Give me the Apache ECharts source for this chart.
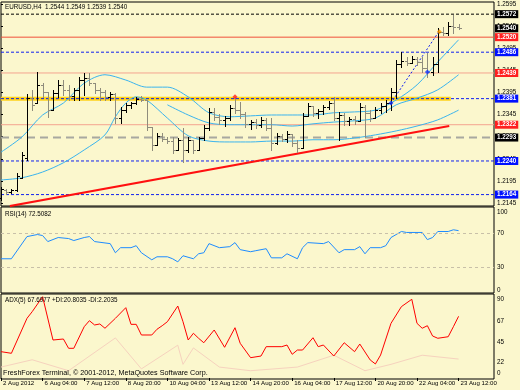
<!DOCTYPE html>
<html><head><meta charset="utf-8">
<script src="https://cdn.jsdelivr.net/npm/echarts@6/dist/echarts.min.js"></script>
<style>html,body{margin:0;padding:0;background:#FBF7CD;}#c{width:520px;height:390px;}</style>
</head><body><div id="c"></div>
<script>
// ---- data ----
const symbolName = 'EURUSD,H4';
const timeLabelIdx = [0,8,16,24,32,40,48,56,64,72,80,88];
const timeLabels = ['2 Aug 2012','6 Aug 04:00','7 Aug 12:00','8 Aug 20:00','10 Aug 04:00','13 Aug 12:00','14 Aug 20:00','16 Aug 04:00','17 Aug 12:00','20 Aug 20:00','22 Aug 04:00','23 Aug 12:00'];
const opens  = [1.2156,1.2175,1.2170,1.2175,1.2202,1.2247,1.2382,1.2371,1.2412,1.2396,1.2355,1.2394,1.2412,1.2401,1.2387,1.2401,1.2423,1.2428,1.2416,1.2401,1.2396,1.2385,1.2391,1.2337,1.2355,1.2367,1.2371,1.2380,1.2378,1.2317,1.2276,1.2297,1.2290,1.2285,1.2265,1.2288,1.2265,1.2288,1.2265,1.2292,1.2315,1.2351,1.2340,1.2333,1.2337,1.2360,1.2355,1.2346,1.2324,1.2328,1.2322,1.2333,1.2315,1.2281,1.2297,1.2290,1.2301,1.2281,1.2269,1.2342,1.2364,1.2349,1.2353,1.2362,1.2371,1.2337,1.2344,1.2331,1.2335,1.2331,1.2362,1.2349,1.2337,1.2355,1.2364,1.2371,1.2396,1.2459,1.2466,1.2462,1.2471,1.2464,1.2450,1.2441,1.2459,1.2532,1.2529,1.2545,1.2544];
const highs  = [1.2181,1.2177,1.2177,1.2213,1.2260,1.2391,1.2401,1.2441,1.2416,1.2396,1.2401,1.2423,1.2423,1.2412,1.2405,1.2430,1.2439,1.2439,1.2416,1.2405,1.2401,1.2396,1.2394,1.2362,1.2371,1.2373,1.2385,1.2387,1.2378,1.2317,1.2303,1.2303,1.2294,1.2294,1.2292,1.2315,1.2294,1.2288,1.2294,1.2322,1.2360,1.2360,1.2346,1.2342,1.2367,1.2385,1.2373,1.2351,1.2333,1.2335,1.2340,1.2337,1.2337,1.2303,1.2301,1.2308,1.2301,1.2288,1.2349,1.2371,1.2364,1.2358,1.2367,1.2376,1.2385,1.2351,1.2349,1.2340,1.2342,1.2371,1.2367,1.2355,1.2362,1.2371,1.2378,1.2405,1.2468,1.2486,1.2475,1.2477,1.2475,1.2475,1.2484,1.2475,1.2541,1.2543,1.2554,1.2570,1.2549];
const lows   = [1.2152,1.2166,1.2168,1.2172,1.2202,1.2242,1.2355,1.2371,1.2385,1.2340,1.2355,1.2385,1.2389,1.2378,1.2378,1.2378,1.2389,1.2412,1.2394,1.2378,1.2378,1.2378,1.2326,1.2326,1.2351,1.2360,1.2369,1.2376,1.2310,1.2265,1.2276,1.2285,1.2281,1.2258,1.2265,1.2238,1.2260,1.2258,1.2265,1.2288,1.2310,1.2333,1.2324,1.2319,1.2333,1.2349,1.2337,1.2317,1.2312,1.2315,1.2317,1.2310,1.2265,1.2279,1.2285,1.2283,1.2274,1.2260,1.2269,1.2342,1.2342,1.2337,1.2346,1.2358,1.2333,1.2288,1.2322,1.2322,1.2324,1.2331,1.2294,1.2331,1.2337,1.2349,1.2351,1.2355,1.2382,1.2453,1.2457,1.2462,1.2457,1.2441,1.2430,1.2435,1.2441,1.2525,1.2525,1.2529,1.2539];
const closes = [1.2177,1.2170,1.2175,1.2206,1.2254,1.2382,1.2367,1.2412,1.2396,1.2355,1.2394,1.2412,1.2401,1.2387,1.2401,1.2423,1.2428,1.2416,1.2401,1.2396,1.2385,1.2391,1.2337,1.2355,1.2367,1.2371,1.2380,1.2378,1.2317,1.2276,1.2297,1.2290,1.2285,1.2265,1.2288,1.2265,1.2288,1.2265,1.2292,1.2315,1.2351,1.2340,1.2333,1.2337,1.2360,1.2355,1.2346,1.2324,1.2328,1.2322,1.2333,1.2315,1.2281,1.2297,1.2290,1.2301,1.2281,1.2269,1.2342,1.2364,1.2349,1.2353,1.2362,1.2371,1.2337,1.2344,1.2331,1.2335,1.2331,1.2362,1.2349,1.2337,1.2355,1.2364,1.2371,1.2396,1.2459,1.2466,1.2462,1.2471,1.2464,1.2450,1.2441,1.2459,1.2532,1.2529,1.2545,1.2544,1.2540];

const bandIdx  = [0,4,8,12,16,20,24,28,32,36,40,44,48,52,56,60,64,68,72,76,80,84,88];
const bandUpper= [1.2260,1.2294,1.2344,1.2371,1.2416,1.2435,1.2423,1.2407,1.2407,1.2385,1.2349,1.2340,1.2342,1.2344,1.2344,1.2344,1.2349,1.2351,1.2355,1.2378,1.2412,1.2464,1.2514];
const bandLowIdx = [0,4,8,12,16,20,22,24,26,28,32,36,40,44,48,52,56,60,64,68,72,76,80,84,88];
const bandLower= [1.2197,1.2202,1.2215,1.2236,1.2265,1.2299,1.2340,1.2371,1.2385,1.2378,1.2337,1.2297,1.2285,1.2283,1.2283,1.2285,1.2285,1.2288,1.2288,1.2292,1.2299,1.2308,1.2319,1.2333,1.2355];
const bandMidIdx = [32,36,40,44,48,52,56,60,64,68,72,76,80,84,88];
const bandMid  = [1.2367,1.2344,1.2326,1.2322,1.2322,1.2322,1.2319,1.2324,1.2328,1.2331,1.2337,1.2367,1.2382,1.2401,1.2435];

const levelPrices = [1.2572,1.2540,1.2520,1.2486,1.2439,1.2381,1.2322,1.2293,1.2240,1.2164];
const levelKinds  = ['black','bid','red','blue','salmon','blue','salmon','gray','blue','blue'];
const supportPrice = 1.2381; const supportEndIdx = 86.5;
const trendIdx = [1.7, 86.2]; const trendPrice = [1.2138, 1.2319];
const channelIdx = [75.4, 84.4]; const channelPrice = [1.2378, 1.2536];
const markerIdx = [45, 75, 82, 84.3]; const markerPrice = [1.2385, 1.2371, 1.2441, 1.2532];
const markerColors = ['#FF2020', '#1030FF', '#1030FF', '#FF9900'];
const priceTicks = [1.2145,1.2195,1.2245,1.2295,1.2345,1.2395,1.2445,1.2495,1.2545,1.2595];

const rsiIdx = [0,2,5,7,8,9,11,13,14,16,17,18,21,22,23,25,26,27,29,30,32,33,34,35,37,38,39,40,42,44,45,46,48,49,51,52,54,55,57,58,59,62,63,65,66,68,69,70,71,73,74,75,77,78,80,81,82,83,84,86,87,88];
const rsiVal = [39.8,39.8,65.6,68,66.8,59.8,64.5,63.3,61,64.5,65.6,59.8,57.4,46.8,52.7,52.7,55,46.8,38.6,42.1,42.1,39.8,36.2,43.3,39.8,45.6,46.8,57.4,52.7,53.9,58.6,50.4,48,49.2,51.5,40.9,40.9,45.6,39.8,52.7,58.6,57.4,59.8,46.8,50.4,50.4,53.9,45.6,52.7,52.7,55,64.5,71.5,70.4,70.4,70.4,62.1,64.5,71.5,71.5,73.5,72.5];
const rsiLevels = [70,30];
const rsiLast = 72.5082;

const adxIdx = [0,2,5,6,8,10,12,13,14,16,17,18,19,20,22,24,25,26,27,29,30,31,32,34,35,36,37,38,39,41,43,45,46,48,50,51,54,55,56,57,58,60,61,62,64,66,68,69,71,72,73,75,77,79,80,81,82,83,84,86,87,88];
const adxVal = [28.9,27.1,65.5,72.8,89.2,41.7,42.8,32.6,32.6,56.3,62.9,58.2,59.3,54.6,65.5,77.2,58.9,58.9,47.2,47.2,53.5,57.4,61.8,79,61.8,41.7,49.1,43.6,38.7,52.7,33.7,55.2,38.1,22.3,24.1,34.4,34.4,36.2,26,30.7,30.7,44.2,34.4,36.2,24.1,38.7,28.9,37.3,19.8,15.4,25.2,60,78.3,86.4,60,54.6,57.4,46.1,43.6,45.3,56.3,67.7];
const diIdx = [0,6,13,22,27,34,35,37,42,48,57,64,70,75,81,88];
const diPlus = [12,20,8,44,10,36,15,33,12,8,12,25,8,15,25,20.8];
const adxLast = [67.6977, 20.8035, 2.2035];
const adxTicks = [22.5,45,67.5,90];

// ---- chart ----
const FONT = 'Liberation Sans';
const FS = 6.3;
const n = closes.length;
const bars = closes.map((c,i)=>[i, opens[i], highs[i], lows[i], c]);
const XMAX = 94.81;
const last = n-1;
function xAx(g, labels){
  return {type:'value', gridIndex:g, min:0, max:XMAX, splitLine:{show:false},
    axisLine:{show:false}, axisTick:{show:labels, length:3, lineStyle:{color:'#000'}, customValues:timeLabelIdx},
    axisLabel:{show:labels, customValues:timeLabelIdx, align:'left', fontSize:6.1, fontFamily:FONT, color:'#000', margin:1, padding:[0,0,0,2],
      formatter:v=>timeLabels[timeLabelIdx.indexOf(Math.round(v))]||''}};
}
const boxColors = {black:'#000000', bid:'#000000', red:'#FF2020', blue:'#0010FF', salmon:'#FF2020', gray:'#000000'};
const lineStyles = {
  black:{color:'#000', type:[3,2], width:1},
  bid:{color:'#000', opacity:0, width:1},
  red:{color:'#F0503A', type:'solid', width:1},
  blue:{color:'#1020F0', type:[3,2], width:1},
  salmon:{color:'#F4A490', type:'solid', width:1},
  gray:{color:'#A8A8A0', type:[8,5], width:2}
};
const levelSeries = levelPrices.map((p,k)=>{
  const kind = levelKinds[k];
  return {type:'line', xAxisIndex:0, yAxisIndex:0, data:[[0,p],[XMAX,p]], symbol:'none', silent:true, z:2,
    lineStyle:Object.assign({}, lineStyles[kind]),
    endLabel:{show:true, distance:1, formatter:()=>p.toFixed(4), color:'#fff', fontSize:FS, fontFamily:FONT, fontWeight:'bold',
      backgroundColor:boxColors[kind], padding:[1,2,1,2]}};
});
function yLab(extra){
  return Object.assign({fontSize:FS, fontFamily:FONT, color:'#000', margin:3, showMinLabel:true, showMaxLabel:true, hideOverlap:false}, extra);
}

const txt = {fontSize:FS, fontWeight:'normal', color:'#000', fontFamily:FONT};
const option = {
  animation:false,
  backgroundColor:'#FBF7CD',
  textStyle:{fontFamily:FONT},
  title:[
    {text:`${symbolName}  ${opens[last].toFixed(4)} ${highs[last].toFixed(4)} ${lows[last].toFixed(4)} ${closes[last].toFixed(4)}`, left:5, top:4, padding:0, textStyle:txt},
    {text:`RSI(14) ${rsiLast.toFixed(4)}`, left:5, top:211, padding:0, textStyle:txt},
    {text:`ADX(5) ${adxLast[0].toFixed(4)} +DI:${adxLast[1].toFixed(4)} -DI:${adxLast[2].toFixed(4)}`, left:5, top:297, padding:0, textStyle:txt},
    {text:'FreshForex Terminal, © 2001-2012, MetaQuotes Software Corp.', left:3, top:370, padding:0, textStyle:Object.assign({}, txt, {fontSize:7.2})}
  ],
  grid:[
    {left:1, top:2, width:493, height:204, show:true, borderColor:'#000', borderWidth:1, backgroundColor:'transparent'},
    {left:1, top:207, width:493, height:86, show:true, borderColor:'#000', borderWidth:1, backgroundColor:'transparent'},
    {left:1, top:294, width:493, height:85, show:true, borderColor:'#000', borderWidth:1, backgroundColor:'transparent'}
  ],
  xAxis:[xAx(0,false), xAx(1,false), xAx(2,true)],
  yAxis:[
    {type:'value', gridIndex:0, position:'right', min:1.21382, max:1.25995, splitLine:{show:false}, axisLine:{show:false},
      axisTick:{show:true, length:2, customValues:priceTicks, lineStyle:{color:'#000'}},
      axisLabel:yLab({customValues:priceTicks, formatter:v=>v.toFixed(4)})},
    {type:'value', gridIndex:1, position:'right', min:0, max:100, splitLine:{show:false}, axisLine:{show:false}, axisTick:{show:false},
      axisLabel:yLab({customValues:[30,70]})},
    {type:'value', gridIndex:1, position:'right', min:0, max:100, splitLine:{show:false}, axisLine:{show:false}, axisTick:{show:false},
      axisLabel:yLab({customValues:[100], verticalAlign:'top', padding:[2,0,0,0]})},
    {type:'value', gridIndex:1, position:'right', min:0, max:100, splitLine:{show:false}, axisLine:{show:false}, axisTick:{show:false},
      axisLabel:yLab({customValues:[0], verticalAlign:'bottom'})},
    {type:'value', gridIndex:2, position:'right', min:-1.1, max:92.2, splitLine:{show:false}, axisLine:{show:false}, axisTick:{show:false},
      axisLabel:yLab({customValues:[22.5,45,67.5], verticalAlign:'top', padding:[2,0,0,0], formatter:v=>String(Math.floor(v))})},
    {type:'value', gridIndex:2, position:'right', min:-1.1, max:92.2, splitLine:{show:false}, axisLine:{show:false}, axisTick:{show:false},
      axisLabel:yLab({customValues:[0], verticalAlign:'bottom', padding:[0,0,2,0]})},
    {type:'value', gridIndex:2, position:'right', min:-1.1, max:92.2, splitLine:{show:false}, axisLine:{show:false}, axisTick:{show:false},
      axisLabel:yLab({customValues:[adxTicks[3]], verticalAlign:'top', formatter:v=>String(Math.floor(v))})}
  ],
  series:[
    {type:'line', xAxisIndex:0, yAxisIndex:0, data:[[0,supportPrice],[supportEndIdx,supportPrice]], symbol:'none', silent:true, z:1,
      lineStyle:{color:'#FFD21A', width:4}},
    ...levelSeries,
    {type:'line', xAxisIndex:0, yAxisIndex:0, data:trendIdx.map((x,k)=>[x,trendPrice[k]]), symbol:'none', lineStyle:{color:'#FF1010', width:2}, z:3, silent:true},
    {type:'line', xAxisIndex:0, yAxisIndex:0, data:channelIdx.map((x,k)=>[x,channelPrice[k]]), symbol:'none', lineStyle:{color:'#1020F0', width:1, type:[2,2]}, z:3, silent:true},
    {type:'line', xAxisIndex:0, yAxisIndex:0, data:bandIdx.map((x,k)=>[x,bandUpper[k]]), symbol:'none', smooth:0.3, lineStyle:{color:'#3AB4EE', width:1}, z:3, silent:true},
    {type:'line', xAxisIndex:0, yAxisIndex:0, data:bandMidIdx.map((x,k)=>[x,bandMid[k]]), symbol:'none', smooth:0.3, lineStyle:{color:'#3AB4EE', width:1}, z:3, silent:true},
    {type:'line', xAxisIndex:0, yAxisIndex:0, data:bandLowIdx.map((x,k)=>[x,bandLower[k]]), symbol:'none', smooth:0.3, lineStyle:{color:'#3AB4EE', width:1}, z:3, silent:true},
    {type:'custom', xAxisIndex:0, yAxisIndex:0, data:bars, z:4, silent:true, encode:{x:0, y:[1,2,3,4]},
      renderItem:(params, api)=>{
        const i = api.value(0);
        const o = api.coord([i, api.value(1)]), h = api.coord([i, api.value(2)]), l = api.coord([i, api.value(3)]), c = api.coord([i, api.value(4)]);
        const x = Math.round(o[0]) + 0.5;
        const col = api.value(4) >= api.value(1) ? '#000000' : '#8F8C7C';
        const yo = Math.round(o[1])+0.5, yc = Math.round(c[1])+0.5;
        return {type:'group', children:[
          {type:'line', shape:{x1:x, y1:Math.round(h[1]), x2:x, y2:Math.round(l[1])+1}, style:{stroke:col, lineWidth:1}},
          {type:'line', shape:{x1:x-2.5, y1:yo, x2:x, y2:yo}, style:{stroke:col, lineWidth:1}},
          {type:'line', shape:{x1:x, y1:yc, x2:x+2.5, y2:yc}, style:{stroke:col, lineWidth:1}}
        ]};
      }},
    {type:'scatter', xAxisIndex:0, yAxisIndex:0, z:5, silent:true, symbol:'diamond', symbolSize:5,
      data:markerIdx.map((x,k)=>({value:[x,markerPrice[k]], itemStyle:{color:markerColors[k]}}))},
    {type:'line', xAxisIndex:1, yAxisIndex:1, data:rsiIdx.map((x,k)=>[x,rsiVal[k]]), symbol:'none', lineStyle:{color:'#1E8CFF', width:1}, silent:true,
      markLine:{silent:true, symbol:'none', label:{show:false}, lineStyle:{color:'#C8C0A8', type:[3,3], width:1}, data:rsiLevels.map(v=>({yAxis:v}))}},
    {type:'line', xAxisIndex:2, yAxisIndex:4, data:diIdx.map((x,k)=>[x,diPlus[k]]), symbol:'none', lineStyle:{color:'#F6D2BE', width:1}, silent:true},
    {type:'line', xAxisIndex:2, yAxisIndex:4, data:adxIdx.map((x,k)=>[x,adxVal[k]]), symbol:'none', lineStyle:{color:'#FF0000', width:1}, silent:true}
  ]
};
const chart = echarts.init(document.getElementById('c'), null, {renderer:'canvas'});
chart.setOption(option);
</script>
</body></html>
